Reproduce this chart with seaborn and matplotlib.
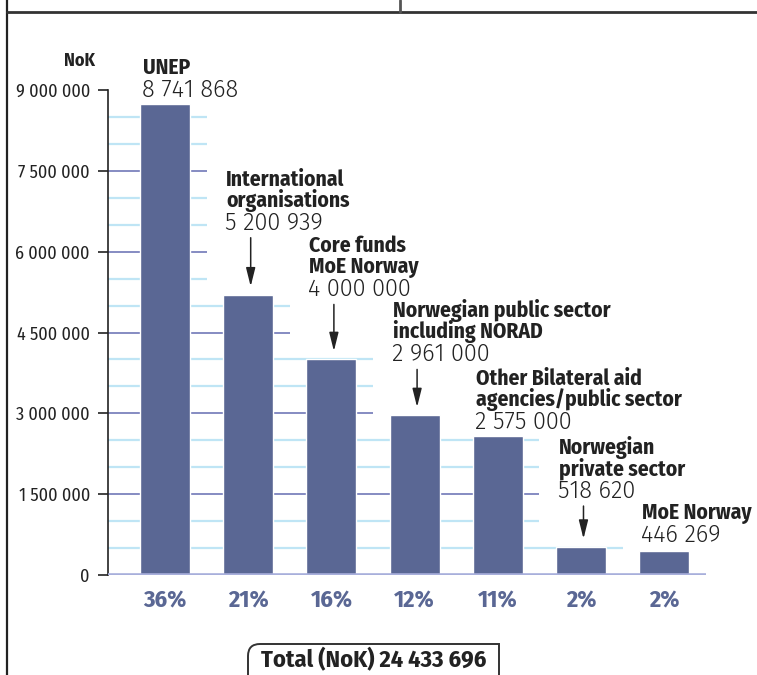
import matplotlib
matplotlib.use("Agg")
import matplotlib.pyplot as plt
import seaborn as sns
import pandas as pd
import numpy as np
from matplotlib.lines import Line2D
from matplotlib.patches import PathPatch
from matplotlib.path import Path
from matplotlib import font_manager

# data
sources = ["UNEP", "International\norganisations", "Core funds\nMoE Norway",
           "Norwegian public sector\nincluding NORAD",
           "Other Bilateral aid\nagencies/public sector",
           "Norwegian\nprivate sector", "MoE Norway"]
amounts = [8741868, 5200939, 4000000, 2961000, 2575000, 518620, 446269]
shares = ["36%", "21%", "16%", "12%", "11%", "2%", "2%"]
has_arrow = [False, True, True, True, False, True, False]
ytick_vals = [0, 1500000, 3000000, 4500000, 6000000, 7500000, 9000000]
ytick_text = ["0", "1 500 000", "3 000 000", "4 500 000", "6 000 000", "7 500 000", "9 000 000"]
total_text = "Total (NoK) 24 433 696"

# layout (pixels above the bar top where the value text sits)
label_lift = [7, 65, 63, 54, 7, 49, 9]

bar_col = "#5a6794"
major_col = "#7c82bd"
minor_col = "#bfe5f5"
zero_col = "#a8afdb"
ink = "#222222"


def pick(cands, need):
    fonts = font_manager.fontManager.ttflist
    for name in cands:
        weights = {f.weight for f in fonts if f.name == name and f.style == "normal"}
        if all(w in weights for w in need):
            return name
    return "DejaVu Sans"


narrow = pick(["Fira Sans Condensed", "IBM Plex Sans Condensed", "PT Sans Narrow",
               "Roboto Condensed", "Archivo Narrow", "Liberation Sans Narrow"], [400, 700])
light = pick(["Fira Sans", "Libre Franklin", "IBM Plex Sans", "Roboto", "Open Sans"], [300])

sns.set_style("white")
plt.rcParams["font.family"] = [narrow, "DejaVu Sans"]

df = pd.DataFrame({"source": sources, "amount": amounts})

fig = plt.figure(figsize=(7.57, 6.75), dpi=100)
ax = fig.add_axes([108 / 757, 100 / 675, 649 / 757, 485 / 675])

sns.barplot(data=df, x="source", y="amount", color=bar_col, width=0.6,
            saturation=1, ax=ax, zorder=3)

x0 = -0.685
ax.set_xlim(x0, x0 + 649 / 83.2)
ax.set_ylim(0, 9000000)

# stepped grid lines, each reaching just past the last bar that is at least as tall
for lev in np.arange(500000, 9000000, 500000):
    idx = [i for i, a in enumerate(amounts) if a >= lev]
    if not idx:
        continue
    major = lev % 1500000 == 0
    ax.hlines(lev, x0, max(idx) + 0.5, color=major_col if major else minor_col,
              lw=1.3 if major else 1.6, zorder=1)
ax.hlines(0, x0, len(amounts) - 0.5, color=zero_col, lw=2.6, zorder=4)

for s in ["top", "right", "bottom"]:
    ax.spines[s].set_visible(False)
ax.spines["left"].set_color(ink)
ax.spines["left"].set_linewidth(1.2)
ax.spines["left"].set_bounds(0, 9000000)

ax.set_yticks(ytick_vals)
ax.set_yticklabels(ytick_text, fontsize=13, color=ink)
ax.tick_params(axis="y", direction="out", length=7, width=1.2, color=ink, pad=6, left=True)
ax.tick_params(axis="x", bottom=False, labelbottom=False)
ax.set_xlabel("")
ax.set_ylabel("")

for i, (src, amt) in enumerate(zip(sources, amounts)):
    ax.annotate(shares[i], xy=(i, 0), xytext=(0, -26), textcoords="offset pixels",
                ha="center", va="center", fontsize=17.5, fontweight="bold", color=bar_col)
    lift = label_lift[i]
    ax.annotate(f"{amt:,}".replace(",", " "), xy=(i - 0.3, amt), xytext=(2, lift),
                textcoords="offset pixels", ha="left", va="baseline",
                fontsize=17, family=[light, "DejaVu Sans"], fontweight=300, color=ink)
    lines = src.split("\n")
    for k, line in enumerate(lines):
        ax.annotate(line, xy=(i - 0.3, amt), xytext=(3, lift + 23 + 21 * (len(lines) - 1 - k)),
                    textcoords="offset pixels", ha="left", va="baseline",
                    fontsize=15.5, fontweight="bold", color=ink)
    if has_arrow[i]:
        ax.annotate("", xy=(i + 0.03, amt), xytext=(0, lift - 8), textcoords="offset pixels",
                    arrowprops=dict(arrowstyle="-|>,head_length=0.8,head_width=0.2",
                                    color=ink, lw=1.1, shrinkA=0, shrinkB=6,
                                    mutation_scale=14))

fig.text(95 / 757, 1 - 66 / 675, "NoK", ha="right", va="baseline",
         fontsize=13, fontweight="bold", color=ink)

# page frame
fig.add_artist(Line2D([7 / 757, 7 / 757], [0, 1], transform=fig.transFigure, color=ink, lw=1.6))
fig.add_artist(Line2D([7 / 757, 1], [1 - 12 / 675] * 2, transform=fig.transFigure, color="#333333", lw=2))
fig.add_artist(Line2D([400 / 757] * 2, [1 - 12 / 675, 1], transform=fig.transFigure, color="#555555", lw=2))

# total box with a rounded top-left corner
W, H = 757, 675
verts = [(248 / W, 0), (248 / W, 1 - 656 / H), (248 / W, 1 - 644 / H), (260 / W, 1 - 644 / H),
         (499 / W, 1 - 644 / H), (499 / W, 0)]
codes = [Path.MOVETO, Path.LINETO, Path.CURVE3, Path.CURVE3, Path.LINETO, Path.LINETO]
fig.add_artist(PathPatch(Path(verts, codes), transform=fig.transFigure, fill=False,
                         edgecolor="#333333", lw=1.4))
fig.text(374 / 757, 1 - 667 / 675, total_text, ha="center", va="baseline",
         fontsize=17.5, fontweight="bold", color=ink)

fig.savefig("out.png", dpi=100)
